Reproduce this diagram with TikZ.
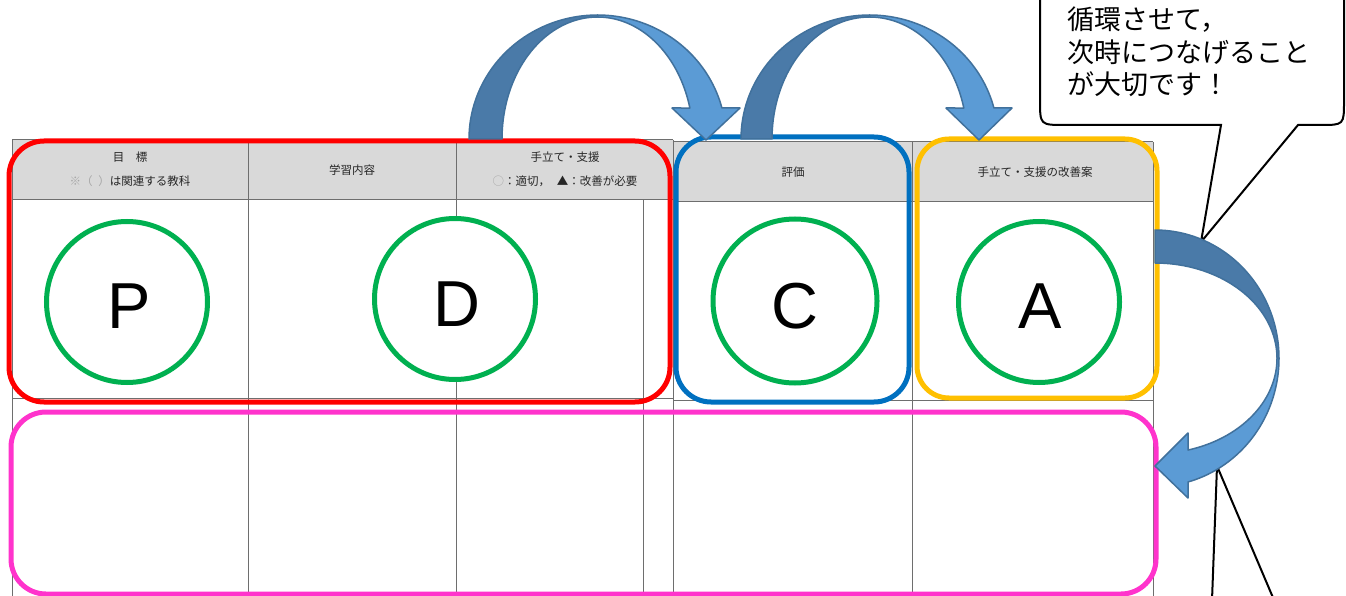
\documentclass[tikz,border=0pt]{standalone}
\usepackage{fontspec}
\setmainfont{Liberation Sans}
\newfontfamily\jp{Noto Sans CJK JP}
\definecolor{pdcred}{HTML}{FF0000}
\definecolor{pdcblue}{HTML}{0070C0}
\definecolor{pdcorange}{HTML}{FFC000}
\definecolor{pdcpink}{HTML}{FF33CC}
\definecolor{pdcgreen}{HTML}{00B050}
\definecolor{arrdark}{HTML}{4A7AA8}
\definecolor{arrlight}{HTML}{5B9BD5}
\definecolor{arredge}{HTML}{41719C}
\definecolor{hdrgray}{HTML}{D9D9D9}
\definecolor{gridgray}{HTML}{6E6E6E}
\tikzset{
  grid/.style={draw=gridgray, line width=1},
  hdr/.style={font=\jp\fontsize{11.5}{13}\selectfont, text=black!85, inner sep=0},
  pdcbox/.style={line width=5, rounded corners=35},
  ring/.style={circle, draw=pdcgreen, fill=white, line width=5, minimum size=161, inner sep=0},
  letter/.style={font=\fontsize{65}{65}\selectfont, inner sep=0},
  arrowdark/.style={fill=arrdark, draw=arredge, line width=1.5, line join=round},
  arrowlight/.style={fill=arrlight, draw=arredge, line width=1.5, line join=round},
  bubble/.style={fill=white, draw=black, line width=2, line join=miter},
  bubtext/.style={font=\jp\fontsize{27}{32}\selectfont, inner sep=0, anchor=base west},
  pointer/.style={draw=black, line width=2}
}
\begin{document}
\begin{tikzpicture}[x=1pt,y=-1pt]
\useasboundingbox (0,0) rectangle (1346,596);
\clip (0,0) rectangle (1346,596);
\fill[white] (0,0) rectangle (1346,596);

% table header fill
\fill[hdrgray] (12,140) rectangle (673,200);
\fill[hdrgray] (673,142) rectangle (1153,202);

% table grid
\draw[grid] (12,140) -- (673,140);
\draw[grid] (673,142) -- (1153,142);
\draw[grid] (12,200) -- (673,200);
\draw[grid] (673,202) -- (1153,202);
\draw[grid] (12,398) -- (673,398);
\draw[grid] (673,400) -- (1153,400);
\draw[grid] (12,140) -- (12,600);
\draw[grid] (248,140) -- (248,600);
\draw[grid] (456,140) -- (456,600);
\draw[grid] (643,200) -- (643,600);
\draw[grid] (673,140) -- (673,600);
\draw[grid] (912,142) -- (912,600);
\draw[grid] (1153,142) -- (1153,600);

% header texts
\node[hdr] (h1a) at (130,157) {目\hspace{1em}標};
\node[hdr] (h1b) at (130,181) {\textcolor{black!35}{※（\hspace{0.5em}）}は関連する教科};
\node[hdr] (h2) at (352,170) {学習内容};
\node[hdr] (h3a) at (565,157) {手立て・支援};
\node[hdr] (h3b) at (565,181) {\textcolor{black!35}{○}：適切，\hspace{0.6em}▲：改善が必要};
\node[hdr] (h4) at (793,172) {評価};
\node[hdr] (h5) at (1035,172) {手立て・支援の改善案};

% coloured frames
\draw[pdcbox, pdcred] (9,141) rectangle (670,402);
\draw[pdcbox, pdcblue] (676,137) rectangle (909,402);
\draw[pdcbox, pdcorange, rounded corners=32] (917,139) rectangle (1157,398);
\draw[pdcbox, pdcpink] (11,412) rectangle (1156,594);

% circles and letters
\node[ring] (cP) at (127,302) {};
\node[ring] (cD) at (455,299) {};
\node[ring, minimum size=164] (cC) at (795,301) {};
\node[ring] (cA) at (1039,302) {};
\node[letter] (P) at (129,306) {P};
\node[letter] (D) at (457,304) {D};
\node[letter] (C) at (795,306) {C};
\node[letter] (A) at (1040,306) {A};

% lower pointer lines (from a callout below the picture)
\coordinate (q0) at (1217,466);
\coordinate (q1) at (1212,600);
\coordinate (q2) at (1274,600);
\draw[pointer] (q1) -- (q0) -- (q2);

% speech bubble
\filldraw[bubble] (1040,-5) -- (1040,100) .. controls (1040,125) .. (1065,125)
  -- (1221,125) -- (1201,242) -- (1298,125) -- (1320,125)
  .. controls (1344,125) .. (1344,101) -- (1344,-5);
\node[bubtext] (b1) at (1067,30) {循環させて，};
\node[bubtext] (b2) at (1067,62.5) {次時につなげること};
\node[bubtext] (b3) at (1067,95) {が大切です！};

% curved arrow P/D -> C
\filldraw[arrowlight] plot[domain=90:14.48,samples=40] ({597.5+128.5*cos(\x)},{139-124*sin(\x)})
  -- (740,108) -- (706,140) -- (672,108)
  -- plot[domain=14.72:90,samples=40] ({597.5+95.5*cos(\x)},{139-122*sin(\x)}) -- cycle;
\filldraw[arrowdark] plot[domain=180:90,samples=40] ({597.5+128.5*cos(\x)},{139-124*sin(\x)})
  -- plot[domain=90:180,samples=40] ({597.5+95.5*cos(\x)},{139-122*sin(\x)}) -- cycle;

% curved arrow C -> A
\filldraw[arrowlight] plot[domain=90:14.48,samples=40] ({869.5+128.5*cos(\x)},{139-124*sin(\x)})
  -- (1012,108) -- (979,140) -- (946,108)
  -- plot[domain=14.72:90,samples=40] ({869.5+97.5*cos(\x)},{139-122*sin(\x)}) -- cycle;
\filldraw[arrowdark] plot[domain=180:90,samples=40] ({869.5+128.5*cos(\x)},{139-124*sin(\x)})
  -- plot[domain=90:180,samples=40] ({869.5+97.5*cos(\x)},{139-122*sin(\x)}) -- cycle;

% curved arrow A -> next row
\filldraw[arrowlight] plot[domain=0:-74.57,samples=40] ({1155+124*cos(\x)},{358.3-128.3*sin(\x)})
  -- (1188,498) -- (1155,466) -- (1188,433)
  -- plot[domain=-74.3:0,samples=40] ({1155+122*cos(\x)},{358.3-95.3*sin(\x)}) -- cycle;
\filldraw[arrowdark] plot[domain=90:0,samples=40] ({1155+124*cos(\x)},{358.3-128.3*sin(\x)})
  -- plot[domain=0:90,samples=40] ({1155+122*cos(\x)},{358.3-95.3*sin(\x)}) -- cycle;
\end{tikzpicture}
\end{document}
